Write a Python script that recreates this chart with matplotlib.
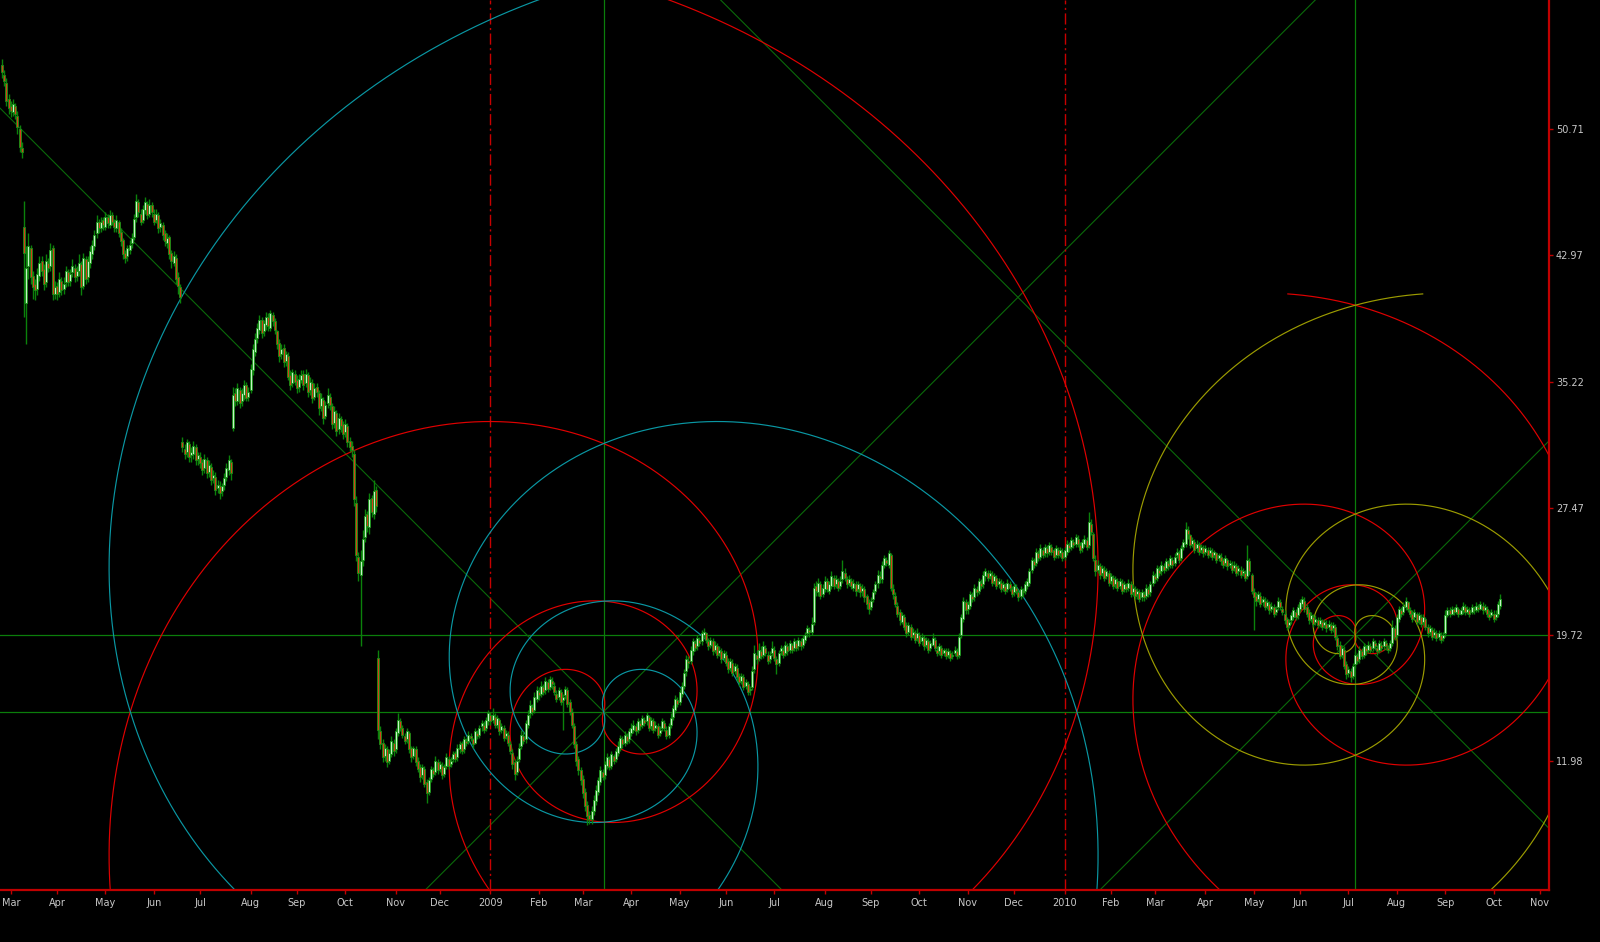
import numpy as np
import pandas as pd
import matplotlib
matplotlib.use("Agg")
import matplotlib.pyplot as plt

# ---------------- data ----------------
START = "2008-02-26"   # first bar (business-day index 0)

O = [
 54.6, 54.0, 53.5, 52.5, 52.1, 51.7, 52.1, 51.5, 50.7, 49.5,
 44.7, 40.0, 42.3, 43.4, 41.7, 41.2, 40.9,
 41.7, 42.6, 42.1, 41.3, 42.5,
 42.3, 43.4,
 40.6, 41.1, 40.7, 41.4, 40.9,
 41.3, 41.9, 41.4, 41.9, 42.2, 41.7,
 42.0, 42.4, 41.1, 42.7,
 41.6, 42.5, 43.0,
 43.5, 44.3, 45.0,
 44.6, 45.1, 44.7, 45.3, 44.8, 45.4, 45.0, 44.6,
 45.0, 44.4, 43.9, 43.1, 42.9,
 43.3, 43.7,
 44.1, 45.3, 46.2, 45.5, 45.1, 45.7, 46.1, 45.5,
 46.0, 45.5, 45.1, 45.4, 44.7, 44.8,
 44.3, 43.7, 44.1, 43.1, 42.5,
 42.8, 41.6, 41.0,
 31.5, 31.1, 30.9, 31.4, 30.7, 30.8, 31.2, 30.5, 30.6, 30.3, 29.9, 30.4, 29.7, 30.0, 29.3, 29.4, 28.7, 28.8, 28.5, 28.9, 29.4, 29.8, 30.3,
 32.4,
 34.5, 34.0, 34.7, 34.0, 34.4, 35.0, 34.3,
 34.7, 35.9, 37.0,
 37.9, 38.4, 39.0, 38.3, 38.7, 39.2, 38.5, 39.3, 38.9,
 38.3, 37.6, 36.9, 37.3, 36.5,
 36.8, 35.6, 35.1, 35.7, 35.3, 34.9,
 35.3, 35.7, 35.1, 35.6, 34.7, 35.1, 34.3,
 34.9, 34.5, 33.7, 34.1, 33.1, 33.9,
 34.3, 33.7, 32.7, 33.3, 32.3, 32.9,
 32.6, 32.1, 32.5, 31.6, 31.3,
 30.8, 27.8,
 24.5, 23.4, 24.3,
 25.7, 27.1, 26.3, 28.1, 27.1, 28.6,
 18.3,
 13.8, 13.1, 12.3, 12.7, 12.0, 12.4, 13.1,
 12.7, 13.7, 14.4,
 14.0, 13.5, 13.3, 13.7, 12.8, 12.3, 12.7, 12.0, 11.6, 11.1, 11.5, 10.7,
 10.1, 10.9, 11.4, 11.3, 11.9, 11.5, 11.7, 11.2, 11.7, 12.1,
 11.8, 12.1, 12.5, 12.2, 12.7, 13.1, 12.7, 13.2, 13.2, 13.5, 13.3, 13.1, 13.7, 13.6, 14.1, 14.2, 14.0, 14.4, 14.8,
 14.5,
 14.7, 14.2, 14.5, 13.9, 14.0, 13.5, 13.6,
 13.0, 12.5, 11.9, 11.3,
 12.1, 12.9, 13.5, 13.3, 14.2, 14.9, 15.3, 15.1, 15.8,
 16.2, 16.1, 16.5, 16.3, 16.8, 16.5, 16.9,
 16.6, 16.1, 15.9, 16.2, 15.7, 16.0, 16.3, 15.6,
 15.0, 14.1, 13.0, 12.1,
 11.4, 10.9, 10.1, 9.3, 8.7,
 8.4, 8.9, 9.5, 10.1, 10.7, 11.3,
 11.1, 11.7, 12.1, 11.7, 12.3, 12.1,
 12.5, 12.8, 13.3, 13.1, 13.5, 13.3, 13.7,
 13.9, 14.1, 13.9, 14.3, 14.2,
 14.5, 14.4, 14.7, 14.1, 14.4, 14.0, 14.1, 13.7, 14.0, 14.3, 13.9, 13.6,
 14.2, 14.7, 15.1, 15.7, 15.6, 16.1,
 16.6, 17.5, 18.1,
 18.1, 18.7, 19.2, 19.0, 19.4, 19.3, 19.7, 19.8,
 19.3, 19.1, 19.3, 18.8, 19.0, 18.6, 18.7, 18.3, 18.5, 18.1, 17.7, 18.0, 17.5, 17.7, 17.2, 16.9, 17.1, 16.6, 16.7, 16.3,
 16.5, 17.6,
 18.5, 18.3, 18.7, 18.5, 18.9, 18.5, 18.2, 18.6, 18.8, 18.2, 18.0, 18.7, 18.8, 18.6, 19.0, 18.8, 19.1, 18.9, 19.2, 19.0, 19.3, 19.1, 19.4, 19.8,
 20.0, 19.9,
 20.5,
 22.7, 22.3, 22.8, 22.2, 22.5, 23.0, 22.4, 22.7, 23.2, 22.8, 23.0, 22.7, 23.1, 23.5, 23.1, 22.9, 23.0, 22.6, 22.8, 22.5, 22.7, 22.4, 22.5,
 22.1, 21.7, 21.4, 21.9,
 22.4, 22.9, 23.3, 23.1, 24.0, 24.3, 24.0,
 24.6, 22.5,
 22.1, 21.5, 21.1, 20.5, 20.8, 20.3, 19.9, 20.2, 19.7, 19.8,
 19.5, 19.7, 19.3, 19.5, 19.1, 19.3, 18.9, 19.1, 19.4, 18.8, 18.7, 18.9, 18.6, 18.7, 18.5, 18.6, 18.4, 18.6, 18.7,
 18.5, 19.7, 20.7, 21.7,
 21.3, 21.5, 22.1, 22.0, 22.5, 22.4, 22.9, 22.8, 23.3,
 23.5, 23.3, 23.4, 23.0, 23.2, 22.8, 22.9, 22.6, 22.7, 22.5, 22.8, 22.5, 22.3, 22.6, 22.3, 22.1, 22.4, 22.4, 22.7,
 22.9, 23.7, 24.2, 24.1, 24.7, 24.5, 24.9,
 24.7, 25.0, 24.8, 25.1, 24.9, 24.6, 24.9, 24.7,
 24.8, 24.5, 24.8, 25.2, 25.1, 25.4, 25.3, 25.6, 25.2, 25.0, 25.3, 25.5,
 25.2, 26.5,
 25.9, 24.3, 23.7, 23.9,
 23.5, 23.7, 23.3, 23.5, 23.0, 23.2, 22.8, 23.0, 22.7, 22.9, 22.5, 22.7, 22.6, 22.8, 22.3,
 22.5, 22.2, 22.3, 22.0, 22.2, 22.1, 22.5, 22.3,
 22.9, 23.3, 23.2, 23.7, 23.6, 23.9, 23.8, 24.1, 24.0, 24.3, 24.1, 24.6, 24.7, 24.4, 25.1,
 25.3, 26.1,
 25.8, 25.3, 25.4, 25.0, 25.2, 24.9, 25.0, 24.8, 24.9,
 24.7, 24.8, 24.6, 24.7, 24.4, 24.5, 24.3, 24.1, 24.3, 24.0, 24.0, 23.8, 23.9, 23.6, 23.7, 23.5, 23.5, 23.3, 24.2,
 23.4, 22.3, 22.1, 21.9, 22.1, 21.7,
 21.8, 21.5, 21.6, 21.3, 21.4, 21.1, 21.4, 21.7, 21.3,
 21.0, 20.7, 20.3,
 20.6, 20.8, 21.1, 20.9, 21.3, 21.6,
 21.8, 21.4, 21.1, 20.7, 20.8, 20.5, 20.6, 20.4, 20.5, 20.3, 20.4, 20.2, 20.3, 20.1,
 20.2, 19.5, 19.1, 18.5, 18.8, 17.9, 17.4, 17.5,
 17.2, 17.9, 18.4, 18.2, 18.7, 18.5,
 18.9, 18.8, 19.0, 18.9, 19.2, 18.9, 18.8, 19.1, 19.0, 19.2, 18.9, 18.9,
 19.2, 20.1,
 19.7, 20.7, 21.2, 21.1, 21.4, 21.7, 21.2,
 21.0, 20.8, 21.0, 20.6, 20.8, 20.5,
 20.7, 20.2, 19.9, 20.0, 19.7, 19.8, 19.6, 19.7, 19.5,
 19.8,
 20.9, 21.2, 21.0, 21.3, 21.1, 21.3, 21.0, 21.2, 21.4, 21.1, 21.2, 21.1, 21.3, 21.2, 21.4, 21.3, 21.5, 21.2, 21.3, 21.0, 20.9, 21.0, 20.8, 21.0, 21.5,
]

H = [
 55.0, 54.3, 53.8, 52.8, 52.4, 52.5, 52.3, 51.8, 50.9, 49.9,
 46.3, 43.5, 44.3, 43.6, 42.0, 41.5, 42.2,
 42.9, 42.9, 42.4, 43.0, 42.8,
 43.7, 43.6,
 41.4, 41.3, 41.9, 41.6, 41.6,
 42.3, 42.1, 42.1, 42.7, 42.4, 42.3,
 43.0, 42.6, 43.1, 42.9,
 42.9, 43.5, 43.9,
 44.5, 45.4, 45.2,
 45.3, 45.3, 45.6, 45.5, 45.7, 45.6, 45.2, 45.4,
 45.1, 44.6, 44.0, 43.3, 43.6,
 43.9, 44.3,
 45.5, 46.7, 46.4, 45.8, 46.0, 46.5, 46.3, 46.4,
 46.2, 45.8, 45.8, 45.6, 45.2, 45.0,
 44.5, 44.3, 44.2, 43.3, 43.2,
 43.0, 41.9, 41.2,
 31.8, 31.4, 31.7, 31.6, 31.2, 31.6, 31.4, 30.9, 30.9, 30.5, 30.8, 30.6, 30.4, 30.2, 29.8, 29.7, 29.2, 29.1, 29.0, 29.6, 30.2, 30.7, 30.5,
 34.9,
 34.8, 35.1, 34.9, 34.8, 35.3, 35.2, 34.9,
 36.3, 37.5, 38.2,
 38.8, 39.3, 39.2, 39.0, 39.5, 39.4, 39.6, 39.5, 39.1,
 38.4, 37.8, 37.5, 37.5, 37.1,
 37.0, 35.9, 36.0, 35.9, 35.6, 35.7,
 35.9, 35.9, 36.0, 35.8, 35.5, 35.4, 35.1,
 35.1, 34.7, 34.5, 34.3, 34.0, 34.8,
 34.5, 33.9, 33.7, 33.5, 33.3, 33.1,
 32.8, 32.9, 32.7, 31.8, 31.6,
 31.0, 28.2,
 24.8, 24.9, 26.1,
 27.4, 27.3, 28.4, 28.3, 29.2, 28.8,
 18.8,
 14.1, 13.3, 13.0, 12.9, 12.7, 13.5, 13.3,
 14.0, 14.9, 14.6,
 14.2, 13.7, 14.0, 13.8, 12.9, 12.9, 12.9, 12.2, 11.8, 11.8, 11.7, 10.9,
 11.0, 11.7, 11.6, 12.3, 12.1, 12.0, 11.9, 11.8, 12.5, 12.3,
 12.2, 12.6, 12.6, 13.0, 13.2, 13.2, 13.5, 13.4, 13.8, 13.7, 13.4, 14.0, 13.9, 14.2, 14.5, 14.4, 14.7, 15.1, 15.0,
 15.2,
 14.9, 14.8, 14.6, 14.3, 14.2, 13.9, 13.8,
 13.2, 12.7, 12.1, 12.3,
 13.1, 13.9, 13.8, 14.5, 15.1, 15.7, 15.5, 16.2, 16.6,
 16.5, 16.9, 16.7, 17.1, 17.0, 17.2, 17.1,
 16.8, 16.3, 16.5, 16.4, 16.1, 16.6, 16.5, 15.8,
 15.2, 14.3, 13.2, 12.3,
 11.6, 11.1, 10.3, 9.5, 8.9,
 9.2, 9.9, 10.5, 11.0, 11.7, 11.5,
 12.0, 12.5, 12.3, 12.6, 12.4, 12.8,
 13.2, 13.6, 13.5, 13.8, 13.7, 14.0, 14.3,
 14.5, 14.3, 14.6, 14.5, 14.8,
 14.7, 15.0, 14.8, 14.7, 14.6, 14.4, 14.3, 14.1, 14.6, 14.5, 14.1, 14.3,
 14.9, 15.4, 16.0, 15.9, 16.4, 16.8,
 17.6, 18.5, 18.4,
 19.0, 19.5, 19.4, 19.7, 19.6, 20.0, 20.1, 19.9,
 19.5, 19.6, 19.5, 19.3, 19.2, 19.0, 18.9, 18.8, 18.7, 18.3, 18.3, 18.2, 18.0, 17.9, 17.4, 17.4, 17.3, 17.0, 16.9, 16.6,
 17.8, 19.1,
 18.8, 19.2, 19.0, 19.3, 19.1, 18.7, 18.7, 19.3, 19.0, 18.4, 18.8, 19.1, 19.0, 19.3, 19.2, 19.4, 19.2, 19.5, 19.4, 19.6, 19.5, 19.7, 19.9, 20.3,
 20.2, 20.8,
 22.9,
 23.0, 23.2, 23.0, 22.8, 23.3, 23.2, 23.0, 23.6, 23.4, 23.4, 23.2, 23.3, 24.3, 23.8, 23.3, 23.4, 23.2, 23.1, 23.0, 23.0, 22.9, 22.8, 22.7,
 22.2, 21.9, 22.0, 22.5,
 23.0, 23.7, 23.6, 24.2, 24.6, 24.5, 24.9,
 24.7, 22.8,
 22.3, 21.7, 21.3, 21.1, 21.0, 20.5, 20.5, 20.4, 20.1, 20.0,
 20.1, 19.9, 19.8, 19.7, 19.6, 19.5, 19.4, 19.8, 19.6, 19.0, 19.2, 19.1, 18.9, 18.9, 18.9, 18.8, 18.7, 19.0, 18.9,
 19.8, 21.0, 22.0, 21.9,
 21.8, 22.4, 22.3, 22.8, 22.7, 23.2, 23.1, 23.6, 23.8,
 23.7, 23.7, 23.6, 23.5, 23.4, 23.2, 23.1, 23.0, 22.9, 23.1, 23.0, 22.7, 22.9, 22.8, 22.5, 22.7, 22.6, 23.0, 23.2,
 23.8, 24.5, 24.4, 25.0, 24.9, 25.3, 25.1,
 25.3, 25.2, 25.4, 25.3, 25.0, 25.2, 25.1, 25.1,
 25.0, 25.1, 25.5, 25.4, 25.7, 25.6, 25.9, 25.8, 25.4, 25.6, 25.8, 25.7,
 27.2, 26.8,
 26.0, 24.6, 24.3, 24.1,
 24.0, 23.9, 23.8, 23.7, 23.5, 23.4, 23.3, 23.2, 23.2, 23.1, 23.0, 22.9, 23.1, 23.0, 22.8,
 22.7, 22.6, 22.5, 22.5, 22.4, 22.8, 22.7, 23.0,
 23.6, 23.5, 24.0, 23.9, 24.2, 24.1, 24.4, 24.3, 24.6, 24.5, 24.7, 25.0, 24.9, 25.2, 25.6,
 26.6, 26.4,
 25.9, 25.7, 25.6, 25.5, 25.4, 25.3, 25.2, 25.2, 25.1,
 25.1, 25.0, 24.9, 24.8, 24.7, 24.7, 24.4, 24.6, 24.4, 24.3, 24.2, 24.2, 24.1, 24.0, 23.9, 23.8, 23.7, 25.2, 24.4,
 23.5, 22.6, 22.3, 22.4, 22.3, 22.1,
 22.0, 21.9, 21.8, 21.7, 21.6, 21.5, 22.0, 21.9, 21.5,
 21.2, 20.8, 20.7,
 21.1, 21.4, 21.3, 21.6, 21.9, 22.1,
 22.0, 21.6, 21.3, 21.1, 21.0, 20.9, 20.8, 20.8, 20.7, 20.7, 20.6, 20.6, 20.5, 20.5,
 20.4, 19.7, 19.3, 19.1, 19.0, 18.1, 17.8, 17.7,
 18.0, 18.7, 18.6, 19.0, 18.9, 19.2,
 19.1, 19.3, 19.2, 19.5, 19.4, 19.1, 19.4, 19.3, 19.5, 19.4, 19.1, 19.4,
 20.6, 20.3,
 21.0, 21.5, 21.4, 21.7, 22.0, 21.8, 21.4,
 21.2, 21.3, 21.1, 21.1, 21.0, 21.0,
 20.8, 20.4, 20.3, 20.2, 20.1, 20.0, 20.0, 19.9, 19.9,
 21.2,
 21.4, 21.4, 21.5, 21.4, 21.6, 21.4, 21.4, 21.7, 21.6, 21.5, 21.4, 21.6, 21.5, 21.7, 21.6, 21.8, 21.7, 21.6, 21.5, 21.2, 21.3, 21.2, 21.2, 21.8, 22.2,
]

L = [
 53.8, 53.3, 52.1, 51.6, 51.4, 51.5, 51.3, 50.4, 49.3, 48.9,
 39.2, 37.5, 41.5, 41.2, 40.3, 40.2, 40.5,
 41.4, 41.7, 40.8, 41.0, 41.9,
 42.0, 40.2,
 40.3, 40.2, 40.4, 40.5, 40.6,
 41.0, 41.1, 41.1, 41.6, 41.3, 41.4,
 41.7, 40.5, 40.9, 41.2,
 41.3, 42.2, 42.7,
 43.3, 44.0, 44.3,
 44.4, 44.5, 44.5, 44.6, 44.6, 44.8, 44.4, 44.4,
 44.1, 43.5, 42.7, 42.5, 42.6,
 43.0, 43.4,
 43.9, 45.0, 45.3, 44.8, 44.9, 45.5, 45.2, 45.3,
 45.3, 44.8, 44.9, 44.3, 44.4, 43.9,
 43.5, 43.4, 42.7, 42.2, 42.3,
 41.2, 40.6, 40.0,
 30.9, 30.5, 30.6, 30.3, 30.3, 30.5, 30.1, 30.1, 29.9, 29.5, 29.6, 29.3, 29.4, 28.9, 29.0, 28.3, 28.4, 28.0, 28.2, 28.6, 29.1, 29.5, 29.2,
 32.2,
 33.7, 33.8, 33.6, 33.7, 34.1, 34.0, 34.0,
 34.5, 35.6, 36.8,
 37.6, 38.1, 37.9, 38.0, 38.4, 38.3, 38.3, 38.6, 38.1,
 37.2, 36.4, 36.6, 36.1, 36.2,
 35.3, 34.7, 34.9, 35.0, 34.5, 34.6,
 35.1, 34.7, 34.9, 34.3, 34.4, 33.9, 34.1,
 34.3, 33.2, 33.4, 32.6, 32.9, 33.6,
 33.5, 32.3, 32.4, 31.9, 32.0, 32.1,
 31.7, 31.8, 31.2, 30.9, 30.6,
 27.6, 24.2,
 23.0, 19.0, 23.9,
 25.4, 26.0, 25.9, 26.9, 26.8, 27.2,
 13.3,
 12.7, 11.9, 12.0, 11.6, 11.8, 12.2, 12.3,
 12.5, 13.5, 13.8,
 13.4, 13.0, 13.1, 12.5, 11.9, 12.1, 11.7, 11.3, 10.7, 10.9, 10.4, 9.4,
 9.9, 10.7, 11.0, 11.1, 11.2, 11.3, 10.9, 11.0, 11.5, 11.5,
 11.6, 11.9, 11.9, 12.0, 12.5, 12.4, 12.5, 12.9, 13.0, 13.2, 12.8, 13.0, 13.3, 13.4, 13.8, 13.7, 13.8, 14.2, 14.2,
 14.3,
 14.0, 14.0, 13.6, 13.7, 13.2, 13.3, 12.9,
 12.4, 11.5, 10.8, 11.1,
 11.9, 12.7, 13.0, 13.1, 14.0, 14.6, 14.8, 14.9, 15.6,
 15.7, 15.9, 16.0, 16.1, 16.2, 16.3, 16.4,
 16.0, 15.6, 15.7, 15.4, 13.9, 15.8, 15.3, 14.8,
 14.0, 12.8, 11.7, 11.1,
 10.5, 9.7, 8.9, 8.05, 8.1,
 8.1, 8.7, 9.3, 9.9, 10.5, 10.8,
 10.9, 11.5, 11.4, 11.5, 11.8, 11.9,
 12.3, 12.6, 12.8, 12.9, 13.0, 13.1, 13.5,
 13.7, 13.6, 13.7, 13.9, 14.0,
 14.1, 14.2, 13.8, 13.9, 13.7, 13.8, 13.4, 13.5, 13.8, 13.8, 13.3, 13.4,
 14.0, 14.5, 14.9, 15.3, 15.4, 15.9,
 16.4, 17.2, 17.7,
 17.9, 18.5, 18.7, 18.8, 19.0, 19.1, 19.5, 19.2,
 18.8, 18.9, 18.5, 18.6, 18.3, 18.4, 18.0, 18.1, 17.8, 17.4, 17.5, 17.2, 17.3, 16.9, 16.6, 16.7, 16.3, 16.4, 16.0, 16.0,
 16.3, 17.4,
 17.9, 18.1, 18.2, 18.3, 18.4, 17.9, 18.0, 18.4, 18.1, 17.3, 17.8, 18.5, 18.3, 18.4, 18.5, 18.6, 18.6, 18.7, 18.7, 18.8, 18.8, 18.9, 19.2, 19.6,
 19.6, 19.7,
 20.3,
 22.1, 22.1, 21.9, 22.0, 22.3, 22.3, 22.2, 22.5, 22.5, 22.6, 22.4, 22.5, 22.9, 23.0, 22.6, 22.7, 22.5, 22.4, 22.1, 22.3, 22.0, 22.1, 21.7,
 21.3, 21.0, 21.2, 21.7,
 22.2, 22.6, 22.9, 22.9, 23.8, 23.9, 23.8,
 22.4, 21.9,
 21.4, 20.8, 20.3, 20.4, 20.0, 19.6, 19.7, 19.4, 19.5, 19.2,
 19.3, 19.0, 19.1, 18.8, 18.9, 18.6, 18.7, 19.0, 18.7, 18.4, 18.5, 18.3, 18.4, 18.2, 18.3, 18.1, 18.2, 18.4, 18.2,
 18.3, 19.5, 20.5, 21.0,
 21.0, 21.3, 21.7, 21.8, 22.1, 22.2, 22.5, 22.6, 23.0,
 23.0, 23.1, 22.7, 22.8, 22.5, 22.6, 22.3, 22.4, 22.2, 22.3, 22.4, 22.0, 22.1, 22.2, 21.8, 21.9, 22.0, 22.2, 22.5,
 22.7, 23.5, 23.8, 23.9, 24.2, 24.3, 24.4,
 24.5, 24.5, 24.6, 24.6, 24.3, 24.4, 24.4, 24.5,
 24.2, 24.3, 24.6, 24.8, 24.9, 25.0, 25.1, 25.1, 24.7, 24.8, 25.1, 24.9,
 25.0, 25.8,
 24.2, 23.3, 23.5, 23.1,
 23.3, 23.0, 23.1, 22.7, 22.8, 22.5, 22.6, 22.4, 22.5, 22.2, 22.3, 22.3, 22.4, 22.0, 22.1,
 21.9, 21.9, 21.7, 21.8, 21.8, 21.9, 22.0, 22.1,
 22.7, 22.9, 23.0, 23.3, 23.4, 23.5, 23.6, 23.7, 23.8, 23.8, 23.9, 24.4, 24.1, 24.2, 24.9,
 25.1, 25.6,
 25.0, 25.1, 24.7, 24.8, 24.6, 24.7, 24.5, 24.6, 24.4,
 24.5, 24.3, 24.4, 24.1, 24.2, 24.0, 23.8, 23.9, 23.7, 23.8, 23.5, 23.6, 23.3, 23.4, 23.2, 23.3, 23.0, 23.1, 23.4,
 22.2, 20.0, 21.5, 21.7, 21.4, 21.5,
 21.2, 21.3, 21.0, 21.1, 20.8, 20.9, 21.2, 21.2, 20.9,
 20.4, 20.0, 20.1,
 20.4, 20.6, 20.6, 20.7, 21.1, 21.4,
 21.1, 20.8, 20.4, 20.5, 20.2, 20.3, 20.1, 20.2, 20.0, 20.1, 19.9, 20.0, 19.8, 19.9,
 19.4, 18.8, 18.2, 18.3, 17.6, 17.0, 17.1, 16.8,
 17.0, 17.7, 17.9, 18.0, 18.2, 18.3,
 18.5, 18.6, 18.6, 18.7, 18.8, 18.5, 18.6, 18.7, 18.8, 18.8, 18.6, 18.7,
 19.0, 19.4,
 19.5, 20.5, 20.8, 20.9, 21.2, 21.1, 20.8,
 20.5, 20.6, 20.3, 20.4, 20.2, 20.3,
 20.0, 19.6, 19.7, 19.4, 19.5, 19.3, 19.4, 19.2, 19.3,
 19.6,
 20.8, 20.8, 20.9, 20.9, 21.0, 20.8, 20.9, 21.0, 20.9, 21.0, 20.8, 21.0, 21.0, 21.1, 21.1, 21.2, 21.0, 21.1, 20.8, 20.6, 20.8, 20.5, 20.6, 20.8, 21.3,
]

C = [
 54.2, 53.6, 52.4, 52.0, 51.8, 52.2, 51.6, 50.8, 49.6, 49.3,
 43.1, 42.2, 43.5, 41.6, 41.0, 40.8, 41.8,
 42.5, 42.0, 41.2, 42.6, 42.2,
 43.3, 40.6,
 41.0, 40.6, 41.5, 40.8, 41.2,
 42.0, 41.3, 41.8, 42.3, 41.6, 42.0,
 42.5, 41.0, 42.8, 41.5,
 42.6, 43.2, 43.6,
 44.2, 45.0, 44.6,
 45.0, 44.8, 45.3, 44.9, 45.4, 45.0, 44.7, 45.1,
 44.3, 43.8, 43.0, 42.8, 43.4,
 43.6, 44.0,
 45.2, 46.3, 45.6, 45.0, 45.8, 46.2, 45.4, 46.0,
 45.6, 45.0, 45.5, 44.6, 44.9, 44.2,
 43.8, 44.0, 43.0, 42.6, 42.9,
 41.5, 41.1, 40.4,
 31.2, 30.8, 31.5, 30.6, 30.9, 31.3, 30.4, 30.7, 30.2, 29.8, 30.5, 29.6, 30.1, 29.2, 29.5, 28.6, 28.9, 28.4, 28.8, 29.3, 29.9, 30.4, 29.6,
 34.4,
 34.0, 34.8, 33.9, 34.5, 35.0, 34.2, 34.6,
 36.0, 37.2, 37.8,
 38.5, 39.0, 38.2, 38.8, 39.2, 38.6, 39.4, 38.9, 38.4,
 37.5, 36.8, 37.2, 36.4, 36.9,
 35.5, 35.0, 35.8, 35.2, 34.8, 35.4,
 35.6, 35.0, 35.7, 34.6, 35.2, 34.2, 34.8,
 34.6, 33.6, 34.2, 33.0, 33.8, 34.4,
 33.8, 32.6, 33.4, 32.2, 33.0, 32.5,
 32.0, 32.6, 31.5, 31.2, 31.0,
 28.0, 24.6,
 23.5, 24.2, 25.6,
 27.0, 26.4, 28.0, 27.2, 28.5, 27.6,
 13.9,
 13.0, 12.2, 12.8, 11.9, 12.5, 13.2, 12.6,
 13.8, 14.5, 14.0,
 13.6, 13.2, 13.8, 12.7, 12.2, 12.8, 11.9, 11.5, 11.0, 11.6, 10.6, 10.0,
 10.8, 11.5, 11.2, 12.0, 11.4, 11.8, 11.1, 11.6, 12.2, 11.7,
 12.0, 12.4, 12.1, 12.8, 13.0, 12.6, 13.3, 13.1, 13.6, 13.4, 13.0, 13.8, 13.5, 14.0, 14.3, 13.9, 14.5, 14.9, 14.4,
 14.8,
 14.2, 14.6, 13.8, 14.1, 13.4, 13.7, 13.1,
 12.6, 11.8, 11.2, 12.0,
 12.8, 13.6, 13.2, 14.3, 14.8, 15.4, 15.0, 15.9, 16.3,
 16.0, 16.6, 16.2, 16.9, 16.4, 17.0, 16.7,
 16.2, 15.8, 16.3, 15.6, 15.9, 16.4, 15.5, 15.0,
 14.2, 13.0, 12.0, 11.4,
 10.8, 10.0, 9.2, 8.6, 8.4,
 8.9, 9.6, 10.2, 10.8, 11.4, 11.0,
 11.8, 12.2, 11.6, 12.4, 12.0, 12.6,
 12.9, 13.4, 13.0, 13.6, 13.2, 13.8, 14.0,
 14.2, 13.8, 14.4, 14.1, 14.6,
 14.3, 14.8, 14.0, 14.5, 13.9, 14.2, 13.6, 13.9, 14.4, 14.0, 13.5, 14.1,
 14.6, 15.2, 15.8, 15.5, 16.2, 16.6,
 17.4, 18.2, 18.0,
 18.8, 19.3, 18.9, 19.5, 19.2, 19.8, 19.9, 19.4,
 19.0, 19.4, 18.7, 19.1, 18.5, 18.8, 18.2, 18.6, 18.0, 17.6, 18.1, 17.4, 17.8, 17.1, 16.8, 17.2, 16.5, 16.8, 16.2, 16.4,
 17.5, 18.6,
 18.2, 18.8, 18.4, 19.0, 18.6, 18.1, 18.5, 18.9, 18.3, 17.9, 18.6, 18.9, 18.5, 19.1, 18.7, 19.2, 18.8, 19.3, 18.9, 19.4, 19.0, 19.5, 19.7, 20.1,
 19.9, 20.4,
 22.6,
 22.4, 22.9, 22.1, 22.6, 23.0, 22.5, 22.8, 23.3, 22.7, 23.1, 22.6, 23.0, 23.6, 23.2, 22.8, 23.1, 22.7, 22.9, 22.4, 22.8, 22.3, 22.6, 22.0,
 21.6, 21.3, 21.8, 22.3,
 22.8, 23.4, 23.2, 24.0, 24.4, 24.1, 24.7,
 22.6, 22.2,
 21.6, 21.0, 20.6, 20.9, 20.2, 19.8, 20.3, 19.6, 19.9, 19.4,
 19.8, 19.2, 19.6, 19.0, 19.4, 18.8, 19.2, 19.5, 18.9, 18.6, 19.0, 18.5, 18.8, 18.4, 18.7, 18.3, 18.5, 18.8, 18.4,
 19.6, 20.8, 21.8, 21.2,
 21.6, 22.2, 21.9, 22.6, 22.3, 23.0, 22.7, 23.4, 23.6,
 23.2, 23.5, 22.9, 23.3, 22.7, 23.0, 22.5, 22.8, 22.4, 22.9, 22.6, 22.2, 22.7, 22.4, 22.0, 22.5, 22.3, 22.8, 23.0,
 23.6, 24.3, 24.0, 24.8, 24.4, 25.0, 24.6,
 25.1, 24.7, 25.2, 24.8, 24.5, 25.0, 24.6, 24.9,
 24.4, 24.9, 25.3, 25.0, 25.5, 25.2, 25.7, 25.3, 24.9, 25.4, 25.6, 25.1,
 26.6, 26.0,
 24.4, 23.6, 24.0, 23.4,
 23.8, 23.2, 23.6, 22.9, 23.3, 22.7, 23.1, 22.6, 23.0, 22.4, 22.8, 22.5, 22.9, 22.2, 22.6,
 22.1, 22.4, 21.9, 22.3, 22.0, 22.6, 22.2, 22.8,
 23.4, 23.1, 23.8, 23.5, 24.0, 23.7, 24.2, 23.9, 24.4, 24.0, 24.5, 24.8, 24.3, 25.0, 25.4,
 26.2, 25.9,
 25.2, 25.5, 24.9, 25.3, 24.8, 25.1, 24.7, 25.0, 24.6,
 24.9, 24.5, 24.8, 24.3, 24.6, 24.2, 24.0, 24.4, 23.9, 24.1, 23.7, 24.0, 23.5, 23.8, 23.4, 23.6, 23.2, 24.3, 23.6,
 22.4, 22.0, 21.8, 22.2, 21.6, 21.9,
 21.4, 21.7, 21.2, 21.5, 21.0, 21.3, 21.8, 21.4, 21.1,
 20.6, 20.2, 20.5,
 20.9, 21.2, 20.8, 21.4, 21.7, 21.9,
 21.3, 21.0, 20.6, 20.9, 20.4, 20.7, 20.3, 20.6, 20.2, 20.5, 20.1, 20.4, 20.0, 20.3,
 19.6, 19.0, 18.4, 18.9, 17.8, 17.3, 17.6, 17.1,
 17.8, 18.5, 18.1, 18.8, 18.4, 19.0,
 18.7, 19.1, 18.8, 19.3, 19.0, 18.7, 19.2, 18.9, 19.3, 19.0, 18.8, 19.2,
 20.2, 19.6,
 20.8, 21.3, 21.0, 21.5, 21.8, 21.3, 21.0,
 20.7, 21.1, 20.5, 20.9, 20.4, 20.8,
 20.2, 19.8, 20.1, 19.6, 19.9, 19.5, 19.8, 19.4, 19.7,
 20.9,
 21.2, 21.0, 21.3, 21.1, 21.4, 21.0, 21.2, 21.5, 21.1, 21.3, 21.0, 21.4, 21.2, 21.5, 21.3, 21.6, 21.2, 21.4, 21.0, 20.8, 21.1, 20.7, 21.0, 21.6, 21.9,
]

PRICE_TICKS = [11.98, 19.72, 27.47, 35.22, 42.97, 50.71]
LEVELS = [19.72, 15.0]                       # horizontal green lines
YEAR_MARKS = ["2009-01-01", "2010-01-01"]    # red dashed separators
FIRST_MONTH, LAST_MONTH = "2008-03", "2010-11"

# spiral anchors: (bar position, price) and start radius (price units)
ANCHOR_L = (273.45, 15.0)
ANCHOR_R = (615.14, 19.72)
START_R_L = 1.53
START_R_R = 0.688
SPIRAL_SWEEP = 643.0    # degrees drawn from the anchor outward

assert len(O) == len(H) == len(L) == len(C), (len(O), len(H), len(L), len(C))

# ---------------- figure ----------------
W, Hpx = 1600, 942
fig = plt.figure(figsize=(W / 100, Hpx / 100), dpi=100, facecolor="black")
ax = fig.add_axes([0, 52 / Hpx, 1549 / W, 890 / Hpx], facecolor="black")
XMIN, XMAX = -0.91, 703.2
YMIN, YMAX = 4.08, 58.585
ax.set_xlim(XMIN, XMAX)
ax.set_ylim(YMIN, YMAX)

bbox = ax.get_window_extent()
PPB = bbox.width / (XMAX - XMIN)     # pixels per bar
PPP = bbox.height / (YMAX - YMIN)    # pixels per price unit
SLOPE = PPB / PPP                    # 45 degrees on screen

GREEN = "#0b7d0b"
DIAG = "#0a6a0a"
RED = "#e00000"
CYAN = "#0a97a3"
YEL = "#9c9c00"

for lv in LEVELS:
    ax.axhline(lv, color=GREEN, lw=0.9, zorder=1)
for (ax0, ay0) in (ANCHOR_L, ANCHOR_R):
    ax.axvline(ax0, color=GREEN, lw=0.9, zorder=1)
    ax.axline((ax0, ay0), slope=SLOPE, color=DIAG, lw=0.8, zorder=1)
    ax.axline((ax0, ay0), slope=-SLOPE, color=DIAG, lw=0.8, zorder=1)

ext_dates = pd.bdate_range(START, periods=760)
for d in YEAR_MARKS:
    xi = int(np.searchsorted(ext_dates, pd.Timestamp(d)))
    ax.axvline(xi, color="#c80000", lw=1.0, linestyle=(0, (8, 2.5, 1.5, 2.5)), zorder=1)

PHI = (1 + 5 ** 0.5) / 2


def spiral(anchor, s_price, side, ccw, sweep):
    s = s_price * PPP
    t = np.linspace(0, sweep, 8000)
    r = s * PHI ** (t / 90.0)
    th0 = 0.0 if side < 0 else 180.0
    ang = np.radians(th0 + t if ccw else th0 - t)
    xs = side * s + r * np.cos(ang)
    ys = r * np.sin(ang)
    return anchor[0] + xs / PPB, anchor[1] + ys / PPP


for anchor, s0, col2 in ((ANCHOR_L, START_R_L, CYAN), (ANCHOR_R, START_R_R, YEL)):
    for side, ccw, col in ((-1, True, RED), (1, True, RED), (1, False, col2), (-1, False, col2)):
        xs, ys = spiral(anchor, s0, side, ccw, SPIRAL_SWEEP)
        ax.plot(xs, ys, color=col, lw=0.85, zorder=1.5)

# ---------------- candles ----------------
o = np.array(O); h = np.array(H); l = np.array(L); c = np.array(C)
x = np.arange(len(c))
ax.vlines(x, l, h, color="#0b820b", lw=1.0, zorder=2)
up = c >= o
body = np.where(np.abs(c - o) < 0.06, 0.06, c - o)
ax.bar(x[up], body[up], bottom=o[up], width=0.9, color="#c4f2c4",
       edgecolor="#169416", linewidth=0.6, zorder=3)
ax.bar(x[~up], body[~up], bottom=o[~up], width=0.9, color="#d2401a",
       edgecolor="#169416", linewidth=0.6, zorder=3)

# ---------------- axes styling ----------------
months = pd.period_range(FIRST_MONTH, LAST_MONTH, freq="M")
tpos, tlab = [], []
for m in months:
    tpos.append(int(np.searchsorted(ext_dates, m.start_time)))
    tlab.append(str(m.year) if m.month == 1 else m.strftime("%b"))
ax.set_xticks(tpos)
ax.set_xticklabels(tlab)
ax.yaxis.tick_right()
ax.set_yticks(PRICE_TICKS)
ax.set_yticklabels([f"{v:.2f}" for v in PRICE_TICKS])
ax.tick_params(axis="both", colors="#c00000", labelcolor="#c8c8c8",
               labelsize=7, length=3, width=1, direction="out")
ax.tick_params(axis="x", pad=3)
ax.tick_params(axis="y", pad=2)
for sp in ("top", "left"):
    ax.spines[sp].set_visible(False)
for sp in ("bottom", "right"):
    ax.spines[sp].set_color("#c00000")
    ax.spines[sp].set_linewidth(1.6)

fig.savefig("out.png", dpi=100, facecolor="black")
